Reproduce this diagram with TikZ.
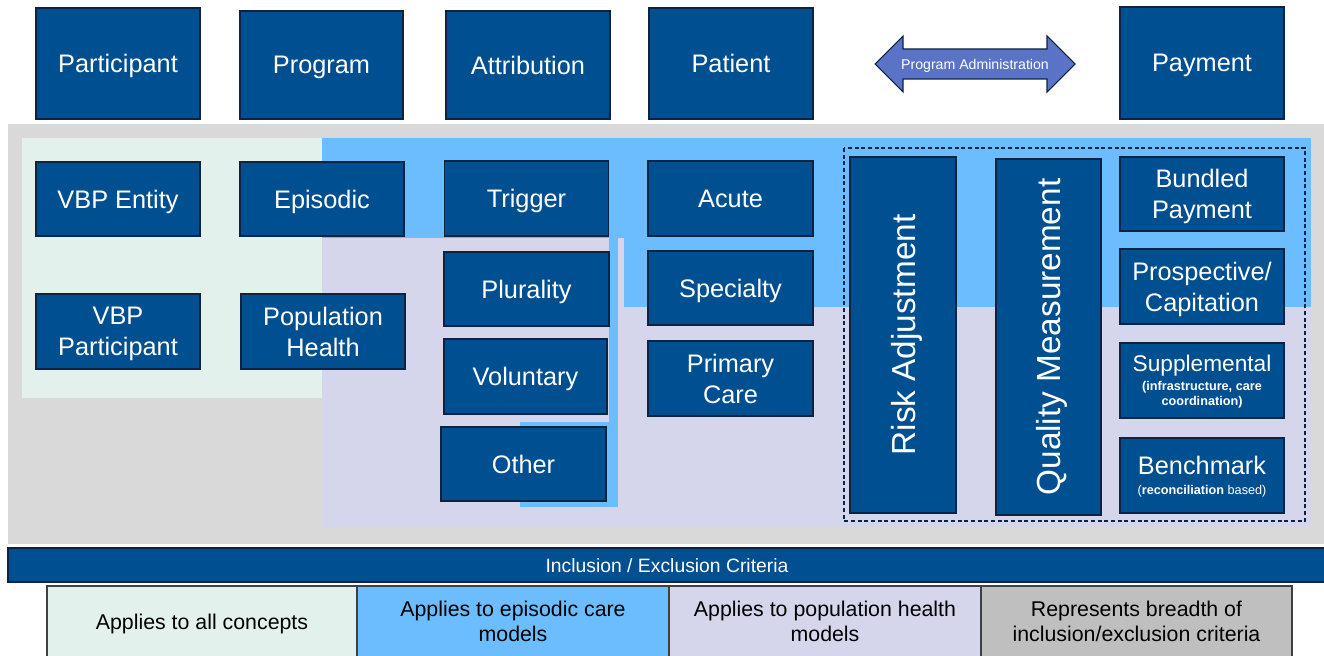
\documentclass[tikz,border=0pt]{standalone}
\usepackage{fontspec}
\setmainfont{Liberation Sans}
\definecolor{navy}{RGB}{0,80,145}
\definecolor{navyline}{RGB}{12,36,66}
\definecolor{bandgray}{RGB}{217,217,217}
\definecolor{mint}{RGB}{226,241,235}
\definecolor{skyblue}{RGB}{108,189,253}
\definecolor{lavender}{RGB}{213,213,236}
\definecolor{keygray}{RGB}{191,191,191}
\definecolor{arrowblue}{RGB}{91,115,198}
\tikzset{
	concept/.style={draw=navyline, line width=1pt, fill=navy, text=white, align=center, inner sep=0pt, text depth=0pt, font=\fontsize{19}{23}\selectfont},
	boxsize/.style 2 args={minimum width=#1*0.75pt, minimum height=#2*0.75pt},
	keycell/.style={draw=black!75, line width=1.5pt, align=center, inner sep=0pt, text depth=0pt, font=\fontsize{16}{18.75}\selectfont},
	upright/.style={rotate=90, font=\fontsize{25}{28}\selectfont}
}
\def\supnote#1{{\fontsize{9.5}{11}\selectfont #1}}

\begin{document}
\begin{tikzpicture}[x=0.75pt, y=-0.75pt]
	%%%%% START %%%%%
	\useasboundingbox (0, 0) rectangle (1324, 656);
	
	\fill[bandgray] (8, 124) rectangle (1324, 544);
	\fill[mint] (22, 138) rectangle (322, 398);
	\fill[lavender] (322, 238) rectangle (1311, 527);
	\fill[skyblue] (322, 138) rectangle (1311, 238);
	\fill[skyblue] (624, 238) rectangle (1311, 307);
	\fill[skyblue] (609, 238) rectangle (618, 507);
	\fill[skyblue] (520, 422) rectangle (618, 507);
	\draw[navyline, line width=1pt, dash pattern=on 3pt off 2pt] (844, 148) rectangle (1305, 521);
	
	% top row
	\node[concept, boxsize={164}{111}] (participant) at (118, 63.5) {Participant};
	\node[concept, boxsize={163}{108}] (program) at (321.5, 65) {Program};
	\node[concept, boxsize={164}{108}] (attribution) at (528, 65) {Attribution};
	\node[concept, boxsize={164}{111}] (patient) at (731, 63.5) {Patient};
	\node[concept, boxsize={164}{112}] (payment) at (1202, 63) {Payment};
	
	\draw[navyline, fill=arrowblue, line width=0.8pt] (875, 64) -- (903, 36) -- (903, 49) -- (1047, 49) -- (1047, 36) -- (1075, 64) -- (1047, 92) -- (1047, 79) -- (903, 79) -- (903, 92) -- cycle;
	\node[text=white, text depth=0pt, font=\fontsize{10.6}{12}\selectfont] (progadmin) at (975, 64) {Program Administration};
	
	% concepts
	\node[concept, boxsize={164}{74}] (vbpentity) at (118, 199) {VBP Entity};
	\node[concept, boxsize={164}{74}] (episodic) at (322, 199) {Episodic};
	\node[concept, boxsize={164}{75}] (trigger) at (526.5, 198.5) {Trigger};
	\node[concept, boxsize={165}{75}] (acute) at (730.5, 198.5) {Acute};
	
	\node[concept, boxsize={164}{75}] (vbpparticipant) at (118, 331.5) {VBP\\Participant};
	\node[concept, boxsize={164}{75}] (pophealth) at (323, 331.5) {Population\\Health};
	
	\node[concept, boxsize={165}{74}] (plurality) at (526.5, 289) {Plurality};
	\node[concept, boxsize={163}{75}] (voluntary) at (525.5, 376.5) {Voluntary};
	\node[concept, boxsize={165}{74}] (other) at (523.5, 464) {Other};
	
	\node[concept, boxsize={165}{74}] (specialty) at (730.5, 288) {Specialty};
	\node[concept, boxsize={165}{75}] (primarycare) at (730.5, 378.5) {Primary\\Care};
	
	\node[concept, upright, boxsize={356}{106}] (riskadj) at (903, 335) {Risk Adjustment};
	\node[concept, upright, boxsize={356}{105}] (quality) at (1048.5, 337) {Quality Measurement};
	
	\node[concept, boxsize={164}{74}] (bundled) at (1202, 194) {Bundled\\Payment};
	\node[concept, boxsize={164}{75}] (prospective) at (1202, 286.5) {Prospective/\\Capitation};
	\node[concept, boxsize={164}{75}, font=\fontsize{17}{23}\selectfont] (supplemental) at (1202, 380.5) {Supplemental\\[-9pt]\supnote{\bfseries(infrastructure, care}\\[-11.5pt]\supnote{\bfseries coordination)}};
	\node[concept, boxsize={164}{75}] (benchmark) at (1202, 475.5) {Benchmark\\[-8pt]\supnote{(\textbf{reconciliation} based)}};
	
	% criteria and key
	\node[concept, boxsize={1318}{34}, font=\fontsize{14.5}{16}\selectfont] (criteria) at (667, 565) {Inclusion / Exclusion Criteria};
	
	\node[keycell, fill=mint, boxsize={310}{71}] (keyall) at (202, 621.5) {Applies to all concepts};
	\node[keycell, fill=skyblue, boxsize={312}{71}] (keyepisodic) at (513, 621.5) {Applies to episodic care\\models};
	\node[keycell, fill=lavender, boxsize={312}{71}] (keypop) at (825, 621.5) {Applies to population health\\models};
	\node[keycell, fill=keygray, boxsize={311}{71}] (keybreadth) at (1136.5, 621.5) {Represents breadth of\\inclusion/exclusion criteria};
	
	%%%%% END %%%%%
\end{tikzpicture}
\end{document}
